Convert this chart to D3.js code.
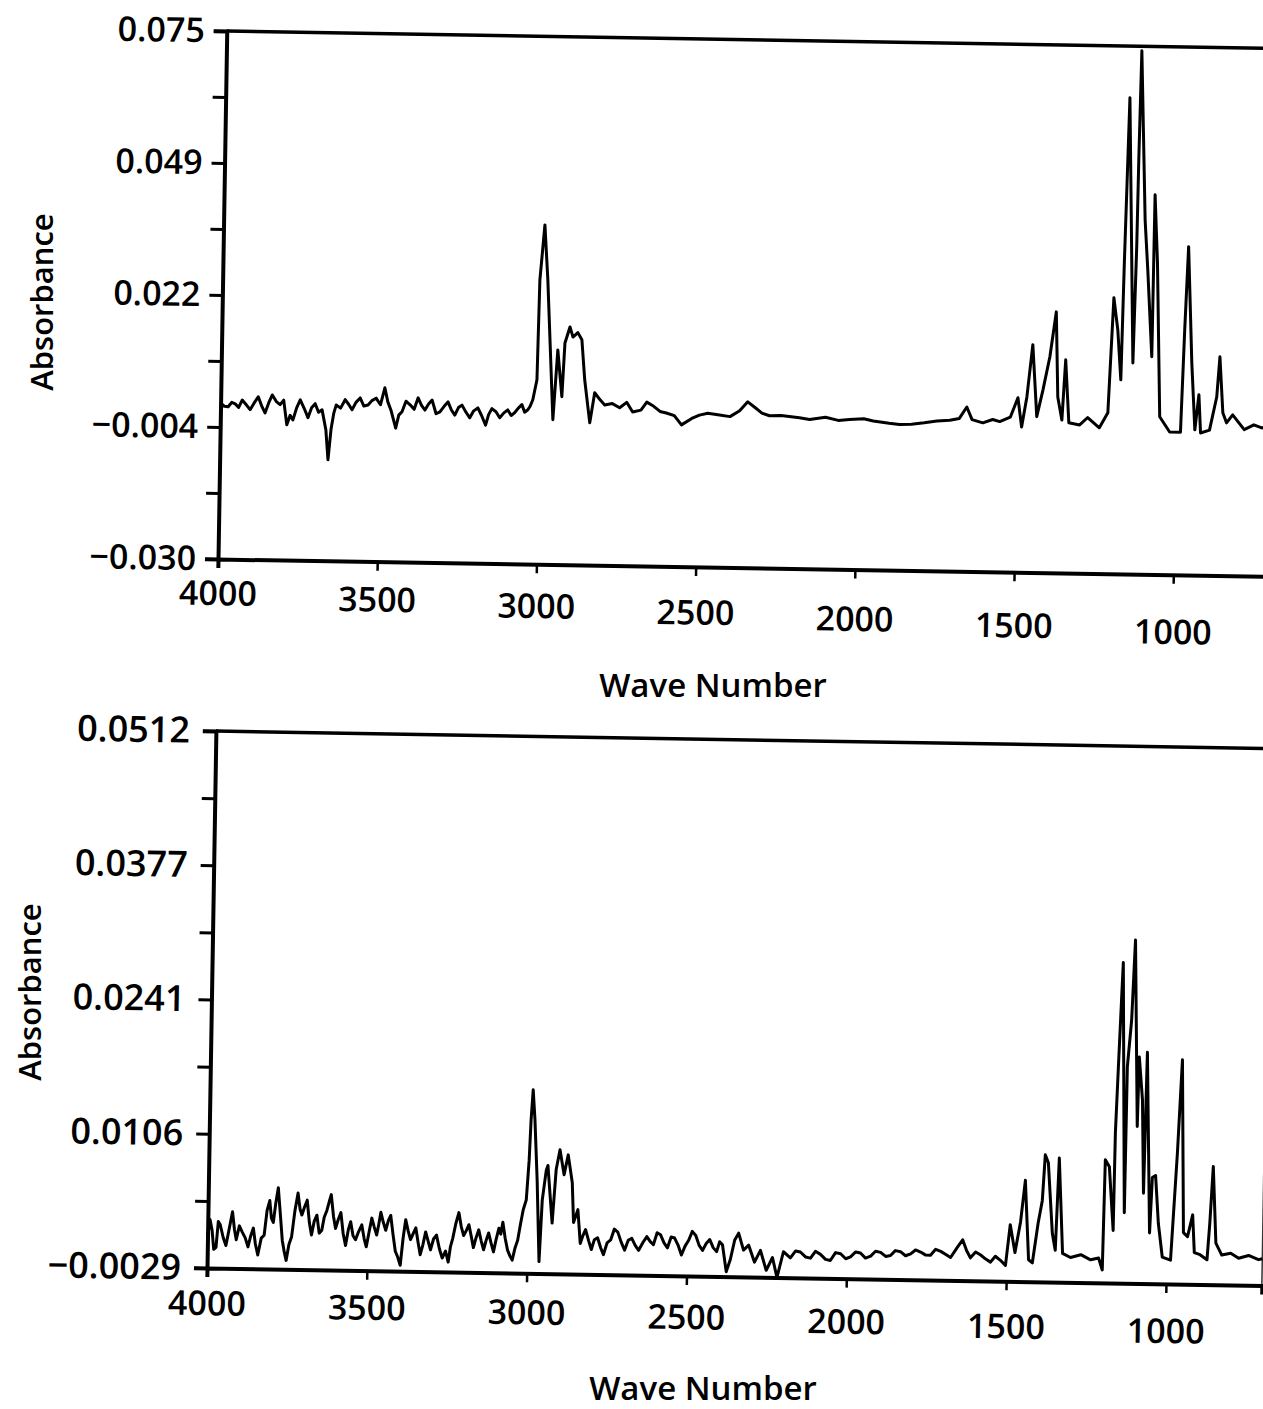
<!DOCTYPE html>
<html>
<head>
<meta charset="utf-8">
<script src="https://cdn.jsdelivr.net/npm/d3@7"></script>
<style>
  html, body { margin: 0; padding: 0; background: #fff; }
  svg { display: block; }
  text { font-family: "Open Sans", "DejaVu Sans", sans-serif; fill: #000; }
</style>
</head>
<body>
<svg id="chart" width="1263" height="1409"></svg>
<script>
// Axis ticks shared by both spectra
const xTickValues = [4000, 3500, 3000, 2500, 2000, 1500, 1000];
const xTickLabels = ["4000", "3500", "3000", "2500", "2000", "1500", "1000"];

const topYTickValues = [0.075, 0.04875, 0.0225, -0.00375, -0.030];
const topYTickLabels = ["0.075", "0.049", "0.022", "\u22120.004", "\u22120.030"];

const bottomYTickValues = [0.0512, 0.037675, 0.02415, 0.010625, -0.0029];
const bottomYTickLabels = ["0.0512", "0.0377", "0.0241", "0.0106", "\u22120.0029"];

// Upper spectrum: [wave number, absorbance]
const topSpectrum = [
  [4000, 0.0010], [3988, 0.0004], [3976, 0.0003], [3965, 0.0012], [3954, 0.0009], [3943, 0.0002],
  [3932, 0.0017], [3920, 0.0008], [3907, -0.0002], [3895, 0.0011], [3882, 0.0024], [3871, 0.0006],
  [3860, -0.0008], [3849, 0.0012], [3838, 0.0028], [3825, 0.0015], [3813, 0.0009], [3802, 0.0018],
  [3791, -0.0031], [3781, -0.0012], [3772, -0.0021], [3761, 0.0003], [3750, 0.0019], [3737, 0.0002],
  [3725, -0.0016], [3714, 0.0004], [3703, 0.0012], [3692, -0.0005], [3681, 0.0000], [3668, -0.0040],
  [3660, -0.0099], [3652, -0.0039], [3644, -0.0006], [3637, 0.0010], [3623, 0.0004], [3609, 0.0021],
  [3598, 0.0012], [3587, 0.0001], [3575, 0.0016], [3562, 0.0025], [3550, 0.0009], [3537, 0.0011],
  [3525, 0.0020], [3512, 0.0025], [3498, 0.0012], [3485, 0.0046], [3475, 0.0018], [3465, 0.0002],
  [3449, -0.0034], [3440, -0.0008], [3430, -0.0001], [3418, 0.0020], [3405, 0.0013], [3392, 0.0004],
  [3380, 0.0027], [3369, 0.0012], [3358, 0.0003], [3347, 0.0015], [3336, 0.0023], [3323, -0.0004],
  [3311, 0.0000], [3298, 0.0011], [3286, 0.0020], [3275, 0.0004], [3264, -0.0006], [3253, 0.0009],
  [3242, 0.0014], [3230, 0.0001], [3217, -0.0011], [3205, 0.0003], [3192, 0.0009], [3180, -0.0006],
  [3167, -0.0025], [3158, -0.0004], [3148, 0.0008], [3135, 0.0002], [3123, -0.0010], [3110, 0.0000],
  [3098, 0.0006], [3087, -0.0005], [3076, 0.0001], [3065, 0.0010], [3054, 0.0017], [3045, 0.0002],
  [3035, 0.0007], [3028, 0.0014], [3020, 0.0027], [3008, 0.0067], [3004, 0.0265], [2991, 0.0375],
  [2979, 0.0266], [2956, -0.0012], [2944, 0.0127], [2929, 0.0034], [2922, 0.0141], [2907, 0.0173],
  [2897, 0.0153], [2882, 0.0162], [2869, 0.0148], [2858, 0.0068], [2840, -0.0017], [2826, 0.0043],
  [2810, 0.0030], [2794, 0.0019], [2770, 0.0022], [2747, 0.0014], [2725, 0.0025], [2706, 0.0006],
  [2680, 0.0010], [2662, 0.0026], [2640, 0.0018], [2620, 0.0008], [2600, 0.0005], [2575, 0.0000],
  [2552, -0.0018], [2520, -0.0005], [2496, 0.0002], [2470, 0.0006], [2433, 0.0003], [2400, 0.0000],
  [2370, 0.0012], [2345, 0.0030], [2320, 0.0018], [2300, 0.0008], [2276, 0.0003], [2240, 0.0004],
  [2182, 0.0000], [2150, -0.0003], [2100, 0.0002], [2060, -0.0004], [2025, -0.0002], [1980, 0.0000],
  [1950, -0.0004], [1900, -0.0008], [1868, -0.0010], [1830, -0.0009], [1790, -0.0006], [1750, -0.0002],
  [1710, 0.0000], [1680, 0.0004], [1657, 0.0027], [1640, 0.0002], [1606, -0.0004], [1575, 0.0003],
  [1553, -0.0001], [1520, 0.0008], [1497, 0.0047], [1484, -0.0011], [1469, 0.0049], [1453, 0.0153],
  [1437, 0.0010], [1419, 0.0063], [1399, 0.0129], [1381, 0.0219], [1372, 0.0050], [1358, 0.0004],
  [1349, 0.0124], [1336, -0.0001], [1302, -0.0005], [1277, 0.0010], [1240, -0.0010], [1214, 0.0020],
  [1201, 0.0249], [1187, 0.0185], [1175, 0.0086], [1170, 0.0319], [1161, 0.0647], [1138, 0.0120],
  [1132, 0.0351], [1130, 0.0524], [1126, 0.0741], [1107, 0.0405], [1096, 0.0305], [1079, 0.0133],
  [1077, 0.0455], [1066, 0.0320], [1051, 0.0014], [1019, -0.0016], [985, -0.0016], [977, 0.0187],
  [969, 0.0353], [953, 0.0122], [940, -0.0011], [929, 0.0059], [922, -0.0017], [894, -0.0011],
  [873, 0.0055], [865, 0.0135], [853, 0.0024], [841, 0.0004], [822, 0.0020], [785, -0.0009],
  [755, 0.0001], [730, -0.0005], [700, 0.0000]
];

// Lower spectrum: [wave number, absorbance]
const bottomSpectrum = [
  [4000, 0.0001], [3993, 0.0020], [3986, 0.0009], [3980, -0.0010], [3973, -0.0008], [3967, 0.0018],
  [3961, 0.0015], [3951, 0.0002], [3942, -0.0006], [3932, 0.0012], [3923, 0.0028], [3916, 0.0010],
  [3910, 0.0000], [3901, 0.0014], [3892, 0.0008], [3882, 0.0002], [3873, -0.0007], [3865, 0.0004],
  [3857, 0.0012], [3850, -0.0004], [3842, -0.0015], [3832, 0.0002], [3823, 0.0005], [3815, 0.0030],
  [3807, 0.0040], [3801, 0.0022], [3795, 0.0018], [3788, 0.0038], [3781, 0.0053], [3773, 0.0025],
  [3766, 0.0000], [3759, -0.0012], [3753, -0.0020], [3745, -0.0004], [3737, 0.0004], [3728, 0.0030],
  [3719, 0.0048], [3712, 0.0032], [3706, 0.0026], [3698, 0.0034], [3690, 0.0041], [3682, 0.0018],
  [3675, 0.0006], [3667, 0.0020], [3659, 0.0026], [3651, 0.0008], [3643, 0.0011], [3636, 0.0024],
  [3628, 0.0031], [3621, 0.0040], [3615, 0.0047], [3607, 0.0025], [3600, 0.0013], [3592, 0.0022],
  [3584, 0.0029], [3576, 0.0008], [3568, -0.0004], [3560, 0.0012], [3553, 0.0020], [3545, 0.0006],
  [3537, 0.0002], [3528, 0.0010], [3518, 0.0017], [3510, 0.0003], [3503, -0.0005], [3495, 0.0010],
  [3487, 0.0024], [3479, 0.0015], [3471, 0.0007], [3465, 0.0018], [3459, 0.0030], [3451, 0.0020],
  [3443, 0.0012], [3435, 0.0022], [3428, 0.0027], [3420, 0.0008], [3412, -0.0009], [3404, -0.0015],
  [3396, -0.0023], [3388, 0.0005], [3381, 0.0023], [3373, 0.0012], [3365, 0.0003], [3357, 0.0009],
  [3349, 0.0015], [3341, 0.0000], [3334, -0.0012], [3326, -0.0002], [3318, 0.0011], [3310, 0.0002],
  [3302, -0.0007], [3293, 0.0004], [3284, 0.0008], [3274, -0.0006], [3265, -0.0015], [3255, -0.0008],
  [3246, -0.0019], [3240, -0.0004], [3233, 0.0005], [3224, 0.0020], [3215, 0.0031], [3207, 0.0017],
  [3199, 0.0008], [3191, 0.0013], [3183, 0.0019], [3175, 0.0007], [3168, -0.0004], [3160, 0.0006],
  [3152, 0.0014], [3144, 0.0003], [3136, -0.0006], [3128, 0.0004], [3121, 0.0011], [3113, 0.0001],
  [3105, -0.0008], [3097, 0.0005], [3089, 0.0016], [3083, 0.0010], [3077, 0.0022], [3069, 0.0006],
  [3061, -0.0006], [3053, -0.0012], [3046, -0.0016], [3038, -0.0004], [3030, 0.0004], [3022, 0.0020],
  [3014, 0.0035], [3005, 0.0045], [2998, 0.0085], [2994, 0.0126], [2989, 0.0156], [2982, 0.0126],
  [2972, 0.0065], [2962, -0.0017], [2955, 0.0045], [2944, 0.0075], [2939, 0.0080], [2923, 0.0022],
  [2913, 0.0076], [2902, 0.0096], [2888, 0.0071], [2876, 0.0091], [2862, 0.0063], [2856, 0.0023],
  [2843, 0.0036], [2834, 0.0002], [2826, 0.0010], [2818, 0.0016], [2808, 0.0005], [2799, -0.0004],
  [2790, 0.0006], [2780, 0.0008], [2770, -0.0002], [2761, -0.0009], [2750, 0.0003], [2739, 0.0006],
  [2728, 0.0017], [2717, 0.0014], [2706, 0.0004], [2695, -0.0004], [2684, 0.0006], [2673, 0.0008],
  [2662, 0.0001], [2651, -0.0004], [2638, 0.0004], [2626, 0.0010], [2615, 0.0005], [2605, 0.0002],
  [2594, 0.0014], [2583, 0.0012], [2572, 0.0004], [2561, -0.0001], [2550, 0.0010], [2539, 0.0009],
  [2528, 0.0002], [2517, -0.0008], [2506, 0.0001], [2495, 0.0007], [2484, 0.0016], [2473, 0.0012],
  [2462, 0.0002], [2451, -0.0003], [2440, 0.0004], [2429, 0.0008], [2418, 0.0000], [2407, -0.0004],
  [2398, 0.0006], [2389, 0.0003], [2376, -0.0024], [2364, -0.0012], [2351, 0.0008], [2339, 0.0015],
  [2323, -0.0002], [2307, 0.0003], [2288, -0.0014], [2270, -0.0002], [2251, -0.0022], [2232, -0.0009],
  [2217, -0.0029], [2198, -0.0003], [2176, -0.0009], [2160, -0.0002], [2145, -0.0003], [2128, -0.0008],
  [2113, -0.0009], [2098, -0.0002], [2082, -0.0005], [2066, -0.0010], [2051, -0.0011], [2035, -0.0003],
  [2019, -0.0004], [2003, -0.0009], [1988, -0.0007], [1972, -0.0002], [1957, -0.0003], [1941, -0.0008],
  [1925, -0.0006], [1910, -0.0001], [1894, -0.0002], [1878, -0.0006], [1863, -0.0005], [1848, 0.0000],
  [1832, -0.0001], [1816, -0.0005], [1800, -0.0003], [1785, 0.0001], [1769, -0.0001], [1753, -0.0004],
  [1738, -0.0004], [1722, 0.0002], [1706, 0.0000], [1690, -0.0003], [1675, -0.0006], [1655, 0.0004],
  [1638, 0.0012], [1625, 0.0001], [1613, -0.0006], [1597, 0.0000], [1581, -0.0003], [1565, -0.0007],
  [1550, -0.0010], [1535, -0.0004], [1519, -0.0008], [1503, -0.0013], [1490, 0.0028], [1474, 0.0000],
  [1458, 0.0031], [1445, 0.0073], [1431, -0.0007], [1419, -0.0010], [1403, 0.0030], [1391, 0.0053],
  [1384, 0.0099], [1374, 0.0091], [1358, 0.0020], [1348, 0.0003], [1340, 0.0096], [1325, 0.0000],
  [1300, -0.0004], [1268, -0.0001], [1237, -0.0006], [1212, -0.0004], [1200, -0.0016], [1196, 0.0095],
  [1183, 0.0088], [1168, 0.0024], [1166, 0.0122], [1160, 0.0189], [1150, 0.0294], [1134, 0.0042],
  [1132, 0.0189], [1121, 0.0236], [1113, 0.0317], [1098, 0.0129], [1095, 0.0199], [1083, 0.0156],
  [1075, 0.0062], [1070, 0.0204], [1054, 0.0022], [1048, 0.0078], [1038, 0.0080], [1027, 0.0032],
  [1013, -0.0002], [987, -0.0005], [971, 0.0103], [960, 0.0197], [948, 0.0023], [935, 0.0019],
  [920, 0.0041], [913, 0.0003], [895, 0.0001], [873, -0.0004], [866, 0.0033], [858, 0.0090],
  [846, 0.0013], [827, 0.0001], [799, 0.0003], [774, -0.0002], [743, 0.0001], [712, -0.0003],
  [700, -0.0002]
];

const svg = d3.select("#chart");
const skew = 0.95; // the printed page sits slightly turned clockwise

function drawPanel(p) {
  const g = svg.append("g")
    .attr("transform", `translate(${p.ox},${p.oy}) rotate(${skew}) translate(0,${-p.height})`);

  const x = d3.scaleLinear().domain([4000, 700]).range([0, p.width]);
  const y = d3.scaleLinear().domain(p.yDomain).range([p.height, 0]);

  // frame: top edge and optional right edge
  g.append("line").attr("x1", 0).attr("x2", p.width).attr("y1", 0).attr("y2", 0)
    .attr("stroke", "#000").attr("stroke-width", 3.5);
  if (p.rightEdge) {
    g.append("line").attr("x1", p.width).attr("x2", p.width).attr("y1", 0).attr("y2", p.height)
      .attr("stroke", "#333").attr("stroke-width", 1.5);
  }

  // minor ticks halfway between labelled ones
  const minor = d3.pairs(p.yTicks).map(([a, b]) => (a + b) / 2);
  g.append("g").call(d3.axisLeft(y).tickValues(minor).tickSize(13).tickFormat(""))
    .call(s => s.select(".domain").remove())
    .call(s => s.selectAll("line").attr("stroke-width", 3));

  const yAxis = g.append("g")
    .call(d3.axisLeft(y).tickValues(p.yTicks).tickSize(13).tickPadding(p.yPad)
      .tickFormat((d, i) => p.yLabels[i]));
  yAxis.select(".domain").attr("stroke-width", 4);
  yAxis.selectAll("line").attr("stroke-width", 3);
  yAxis.selectAll("text").attr("font-size", p.yFont).attr("font-weight", 600)
    .attr("fill", "#000").attr("font-family", '"Open Sans", sans-serif');

  const xAxis = g.append("g").attr("transform", `translate(0,${p.height})`)
    .call(d3.axisBottom(x).tickValues(xTickValues).tickSize(9).tickPadding(10)
      .tickFormat((d, i) => xTickLabels[i]));
  xAxis.select(".domain").attr("stroke-width", 4);
  xAxis.selectAll("line").attr("stroke-width", 2.5);
  // the printed tick labels sag a little more towards the right
  xAxis.selectAll("text").attr("font-size", 34).attr("font-weight", 600)
    .attr("fill", "#000").attr("font-family", '"Open Sans", sans-serif')
    .attr("transform", d => `translate(0,${p.labelSag[0] + (p.labelSag[1] - p.labelSag[0]) * x(d) / x(1000)})`);

  g.append("path").datum(p.data)
    .attr("fill", "none").attr("stroke", "#000").attr("stroke-width", 3)
    .attr("stroke-linejoin", "round")
    .attr("d", d3.line().x(d => x(d[0])).y(d => y(d[1])));

  svg.append("text").attr("x", p.xTitle[0]).attr("y", p.xTitle[1])
    .attr("text-anchor", "middle").attr("font-size", 33).attr("font-weight", 600)
    .text("Wave Number");
  svg.append("text")
    .attr("transform", `translate(${p.yTitle[0]},${p.yTitle[1]}) rotate(-90)`)
    .attr("text-anchor", "middle").attr("font-size", 31).attr("font-weight", 600)
    .text("Absorbance");
}

drawPanel({
  ox: 218, oy: 559, width: 1051, height: 528,
  yDomain: [-0.030, 0.075], yTicks: topYTickValues, yLabels: topYTickLabels,
  yFont: 34, yPad: 9, labelSag: [3, 26],
  data: topSpectrum, rightEdge: false,
  xTitle: [713, 697], yTitle: [53, 302]
});

drawPanel({
  ox: 207, oy: 1268, width: 1055, height: 537,
  yDomain: [-0.0029, 0.0512], yTicks: bottomYTickValues, yLabels: bottomYTickLabels,
  yFont: 36, yPad: 13, labelSag: [4, 16],
  data: bottomSpectrum, rightEdge: true,
  xTitle: [703, 1400], yTitle: [41, 992]
});
</script>
</body>
</html>
